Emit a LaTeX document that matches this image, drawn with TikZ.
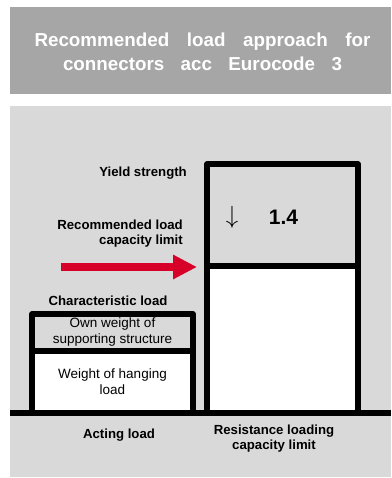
\documentclass[tikz,border=0pt]{standalone}
\usepackage{fontspec}
\setmainfont{Liberation Sans}
\usetikzlibrary{arrows.meta}
\definecolor{titlegray}{HTML}{A6A6A6}
\definecolor{panelgray}{HTML}{D9D9D9}
\definecolor{arrowred}{RGB}{215,0,40}
\begin{document}
\begin{tikzpicture}[x=1pt,y=-1pt,
  lbl/.style={font=\fontsize{13.2}{15}\selectfont\bfseries, inner sep=0pt},
  part/.style={draw=black, line width=5.5pt, line join=round, inner sep=0pt, outer sep=0pt,
    align=center, anchor=north west, font=\fontsize{13.5}{16}\selectfont}
]
\useasboundingbox (0,0) rectangle (391,478);
\fill[titlegray] (10,7) rectangle (391,94);
\fill[panelgray] (10,106) rectangle (391,477);

\node[font=\fontsize{18.8}{24}\selectfont\bfseries, text=white, inner sep=0pt, align=center]
  (title) at (202.5,51.5)
  {\makebox[336pt][s]{Recommended load approach for}\\\makebox[279pt][s]{connectors acc Eurocode 3}};

% left column
\node[part, fill=white, minimum width=161pt, minimum height=62pt] (hang) at (32,351)
  {Weight of hanging\\load};
\node[part, fill=panelgray, minimum width=161pt, minimum height=37pt] (own) at (32,314)
  {\raisebox{-1.5pt}{Own weight of}\\\raisebox{-1.5pt}{supporting structure}};

% right column
\node[part, fill=white, minimum width=151pt, minimum height=147pt] (resist) at (207,266) {};
\node[part, fill=panelgray, minimum width=151pt, minimum height=102pt] (yield) at (207,164) {};

\node[inner sep=0pt, font=\fontsize{34}{34}\selectfont] (down) at (232,217) {$\downarrow$};
\node[inner sep=0pt, font=\fontsize{21}{24}\selectfont\bfseries, anchor=base] (factor) at (283.5,224) {1.4};

% ground line
\coordinate (gl) at (10,413);
\coordinate (gr) at (391,413);
\draw[line width=6.5pt] (gl) -- (gr);

% labels
\node[lbl, anchor=base east] (ys) at (187,176) {Yield strength};
\node[lbl, anchor=east, align=right] (rec) at (183,233.5) {Recommended load\\capacity limit};
\node[lbl, anchor=base] (char) at (108,305) {Characteristic load};
\node[lbl, anchor=base] (act) at (119,438) {Acting load};
\node[lbl, align=center] (res) at (274,438.5) {Resistance loading\\capacity limit};

% red arrow
\coordinate (as) at (61,267);
\coordinate (ae) at (197,267);
\draw[arrowred, line width=8pt, -{Triangle[length=24pt,width=23pt]}] (as) -- (ae);
\end{tikzpicture}
\end{document}
